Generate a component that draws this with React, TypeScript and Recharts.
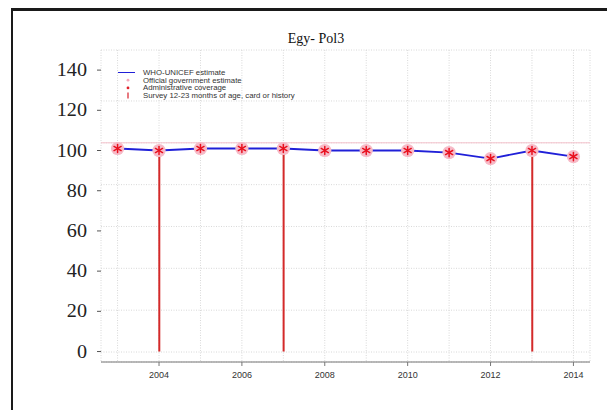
import * as React from 'react';
import {
  ComposedChart,
  Line,
  Bar,
  Scatter,
  XAxis,
  YAxis,
  CartesianGrid,
  ReferenceLine,
  Legend,
} from 'recharts';

const years = [2003, 2004, 2005, 2006, 2007, 2008, 2009, 2010, 2011, 2012, 2013, 2014];
const whoUnicef = [101, 100, 101, 101, 101, 100, 100, 100, 99, 96, 100, 97];
const officialEstimate = [101, 100, 101, 101, 101, 100, 100, 100, 99, 96, 100, 97];
const adminCoverage = [101, 100, 101, 101, 101, 100, 100, 100, 99, 96, 100, 97];
const survey = [null, 100, null, null, 101, null, null, null, null, null, 100, null];

const yTicks = [0, 20, 40, 60, 80, 100, 120, 140];
const xTicks = [2004, 2006, 2008, 2010, 2012, 2014];
const gridYTicks = [0, 10, 20, 30, 40, 50, 60, 70, 80, 90, 100, 110, 120];

const legendItems = [
  { label: 'WHO-UNICEF estimate', kind: 'line', color: '#2020d8' },
  { label: 'Official government estimate', kind: 'dot', color: '#f4a9bb' },
  { label: 'Administrative coverage', kind: 'dot', color: '#e0202a' },
  { label: 'Survey 12-23 months of age, card or history', kind: 'bar', color: '#d8202a' },
];

const data = years.map((year, i) => ({
  year,
  who: whoUnicef[i],
  official: officialEstimate[i],
  admin: adminCoverage[i],
  survey: survey[i],
}));

const SERIF = '"Liberation Serif", "Times New Roman", serif';
const SANS = '"Liberation Sans", Arial, sans-serif';

function YTick({ x, y, payload }: any) {
  return (
    <text
      transform={`translate(${x},${y}) scale(1.12,1)`}
      textAnchor="end"
      dominantBaseline="central"
      fontFamily={SERIF}
      fontSize={18}
      fill="#222"
    >
      {payload.value}
    </text>
  );
}

function PinkDot({ cx, cy }: any) {
  if (cx == null || cy == null) return null;
  return <circle cx={cx} cy={cy} r={6.6} fill="#f7bac7" />;
}

function Asterisk({ cx, cy }: any) {
  if (cx == null || cy == null) return null;
  const r = 4.1;
  const dx = r * Math.cos(Math.PI / 6);
  const dy = r * Math.sin(Math.PI / 6);
  return (
    <g stroke="#e8101e" strokeWidth={1.5} strokeLinecap="round">
      <line x1={cx} y1={cy - r} x2={cx} y2={cy + r} />
      <line x1={cx - dx} y1={cy - dy} x2={cx + dx} y2={cy + dy} />
      <line x1={cx - dx} y1={cy + dy} x2={cx + dx} y2={cy - dy} />
    </g>
  );
}

function LegendBox() {
  return (
    <svg width={220} height={34} style={{ display: 'block' }}>
      {legendItems.map((item, i) => {
        const y = 4.5 + i * 7.7;
        let symbol = null;
        if (item.kind === 'line') {
          symbol = <line x1={5} x2={22} y1={y} y2={y} stroke={item.color} strokeWidth={1} />;
        } else if (item.kind === 'dot') {
          symbol = <circle cx={15} cy={y} r={1.4} fill={item.color} />;
        } else {
          symbol = <line x1={15} x2={15} y1={y - 3} y2={y + 3} stroke={item.color} strokeWidth={1.2} />;
        }
        return (
          <g key={item.label}>
            {symbol}
            <text x={30} y={y} dominantBaseline="central" fontFamily={SANS} fontSize={7.8} fill="#333">
              {item.label}
            </text>
          </g>
        );
      })}
    </svg>
  );
}

export default function App() {
  return (
    <div style={{ position: 'fixed', left: 0, top: 0, width: 607, height: 410, background: '#fff', overflow: 'hidden' }}>
      <div
        style={{
          position: 'absolute',
          left: 11,
          top: 8,
          width: 600,
          height: 410,
          borderTop: '3px solid #1a1a1a',
          borderLeft: '2px solid #1a1a1a',
        }}
      />
      <div
        style={{
          position: 'absolute',
          left: 216,
          top: 31,
          width: 200,
          textAlign: 'center',
          fontFamily: SERIF,
          fontSize: 14,
          color: '#111',
        }}
      >
        Egy- Pol3
      </div>
      <div style={{ position: 'absolute', left: 0, top: 0 }}>
        <ComposedChart width={607} height={410} data={data} margin={{ top: 50, right: 17, bottom: 18, left: 41 }}>
          <XAxis
            xAxisId="grid"
            dataKey="year"
            type="number"
            domain={[2002.6, 2014.4]}
            ticks={years}
            hide
            allowDataOverflow
          />
          <YAxis yAxisId="grid" type="number" domain={[-4.78, 144.36]} ticks={gridYTicks} hide allowDataOverflow />
          <CartesianGrid xAxisId="grid" yAxisId="grid" stroke="#d8d8d8" strokeDasharray="1 1.5" />
          <ReferenceLine xAxisId="grid" yAxisId="grid" y={100} stroke="#f6c2cc" strokeWidth={1} />
          <XAxis
            dataKey="year"
            type="number"
            domain={[2002.6, 2014.4]}
            ticks={xTicks}
            allowDataOverflow
            height={30}
            stroke="#777"
            tickSize={4}
            tickMargin={6}
            tick={{ fontFamily: SANS, fontSize: 9, fill: '#333' }}
          />
          <YAxis
            type="number"
            domain={[-5.2, 150]}
            ticks={yTicks}
            allowDataOverflow
            width={60}
            axisLine={false}
            tickLine={{ stroke: '#555' }}
            tickSize={4}
            tickMargin={10}
            tick={<YTick />}
          />
          <Scatter dataKey="official" shape={<PinkDot />} isAnimationActive={false} />
          <Bar dataKey="survey" barSize={2} fill="#d42a2a" isAnimationActive={false} />
          <Line
            dataKey="who"
            stroke="#2020d8"
            strokeWidth={1.8}
            dot={false}
            activeDot={false}
            isAnimationActive={false}
          />
          <Scatter dataKey="admin" shape={<Asterisk />} isAnimationActive={false} />
          <Legend
            layout="vertical"
            verticalAlign="middle"
            align="center"
            content={() => <LegendBox />}
            wrapperStyle={{ left: 113, top: 68, width: 220 }}
          />
        </ComposedChart>
      </div>
    </div>
  );
}
